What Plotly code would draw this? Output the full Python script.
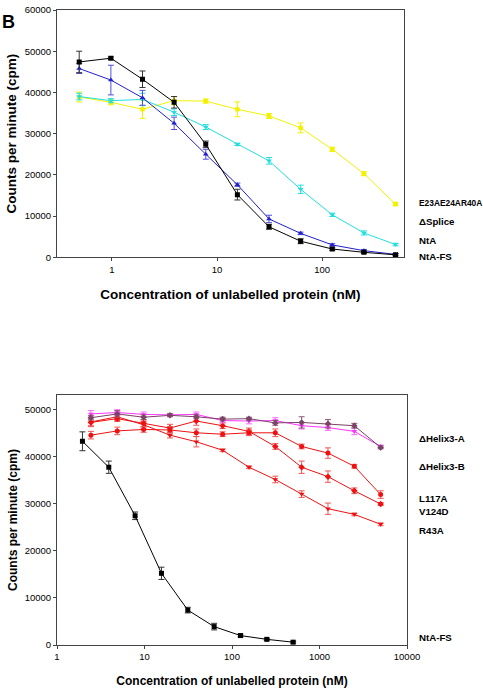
import plotly.graph_objects as go

# ---------------- Panel B (top) ----------------
conc_top = [0.488, 0.977, 1.953, 3.906, 7.8125, 15.625, 31.25, 62.5, 125, 250, 500]
ntafs_top = [47400, 48300, 43200, 37600, 27400, 15200, 7400, 3900, 2000, 1200, 600]
ntafs_top_err = [2600, 300, 2000, 1400, 800, 1300, 600, 600, 300, 300, 300]
nta_top = [45800, 43000, 38700, 32500, 25000, 17600, 9300, 5800, 3000, 1600, 700]
nta_top_err = [1200, 3600, 1800, 1500, 1200, 400, 900, 300, 300, 300, 200]
splice_top = [39000, 38000, 38300, 35200, 31600, 27400, 23400, 16500, 10300, 5900, 3100]
splice_top_err = [800, 500, 1500, 800, 600, 300, 800, 1000, 400, 500, 300]
e23a_top = [38900, 37600, 35900, 38000, 37900, 35900, 34300, 31400, 26200, 20300, 12900]
e23a_top_err = [1200, 600, 2200, 1000, 500, 1800, 600, 1200, 500, 500, 400]

# ---------------- Bottom panel ----------------
conc_fs = [1.953, 3.906, 7.8125, 15.625, 31.25, 62.5, 125, 250, 500]
ntafs_bot = [43200, 37700, 27400, 15200, 7400, 3900, 2000, 1200, 600]
ntafs_bot_err = [2000, 1300, 800, 1300, 600, 700, 300, 200, 200]

conc_mut = [2.441, 4.883, 9.766, 19.53, 39.06, 78.125, 156.25, 312.5, 625, 1250, 2500, 5000]
helixA = [49000, 49300, 48900, 48800, 48900, 47600, 47500, 47600, 46500, 46100, 45300, 42100]
helixA_err = [700, 600, 500, 300, 500, 500, 600, 600, 700, 600, 700, 300]
helixB = [48200, 49000, 48300, 48700, 48400, 47900, 48000, 47100, 47200, 46900, 46500, 41900]
helixB_err = [500, 700, 500, 300, 400, 400, 300, 500, 1200, 900, 500, 300]
l117a = [44500, 45400, 45700, 45600, 45000, 44700, 45000, 45000, 42100, 40700, 37900, 31900]
l117a_err = [800, 800, 600, 700, 800, 500, 600, 800, 500, 1100, 400, 800]
v124d = [47200, 48000, 47000, 46000, 47500, 46500, 45300, 42100, 37700, 35700, 32700, 29900]
v124d_err = [700, 600, 700, 800, 900, 600, 700, 600, 1300, 1200, 600, 300]
r43a = [47300, 48400, 46700, 44500, 43100, 41300, 37700, 35100, 32000, 28900, 27700, 25600]
r43a_err = [1000, 800, 700, 600, 1100, 300, 300, 700, 700, 1200, 300, 300]

labels_top = ["E23AE24AR40A", "\u0394Splice", "NtA", "NtA-FS"]
labels_bot = ["\u0394Helix3-A", "\u0394Helix3-B", "L117A", "V124D", "R43A", "NtA-FS"]

fig = go.Figure()


def add(x, y, err, color, ecolor, symbol, xa, ya, name, size=5):
    fig.add_trace(go.Scatter(
        x=x, y=y, mode="lines+markers", name=name, xaxis=xa, yaxis=ya,
        line=dict(color=color, width=1),
        marker=dict(color=color, symbol=symbol, size=size, line=dict(width=0)),
        error_y=dict(type="data", array=err, visible=True, color=ecolor,
                     thickness=1, width=3),
        showlegend=False,
    ))


add(conc_top, e23a_top, e23a_top_err, "#f2f200", "#f2f200", "circle", "x", "y", "E23AE24AR40A")
add(conc_top, splice_top, splice_top_err, "#22dede", "#22dede", "triangle-down", "x", "y", "ΔSplice")
add(conc_top, nta_top, nta_top_err, "#2020d0", "#5050d8", "triangle-up", "x", "y", "NtA")
add(conc_top, ntafs_top, ntafs_top_err, "#000000", "#333333", "square", "x", "y", "NtA-FS")

add(conc_fs, ntafs_bot, ntafs_bot_err, "#000000", "#333333", "square", "x2", "y2", "NtA-FS")
add(conc_mut, r43a, r43a_err, "#ee1111", "#f05555", "triangle-down", "x2", "y2", "R43A")
add(conc_mut, v124d, v124d_err, "#ee1111", "#f05555", "diamond", "x2", "y2", "V124D")
add(conc_mut, l117a, l117a_err, "#ee1111", "#f05555", "circle", "x2", "y2", "L117A")
add(conc_mut, helixA, helixA_err, "#ff33ff", "#ff66ff", "triangle-down", "x2", "y2", "ΔHelix3-A")
add(conc_mut, helixB, helixB_err, "#7a4466", "#8a5a76", "diamond", "x2", "y2", "ΔHelix3-B")

axis_common = dict(showline=True, linecolor="#444444", linewidth=1, mirror=True,
                   ticks="outside", ticklen=3, tickcolor="#444444", showgrid=False,
                   zeroline=False, ticklabeloverflow="allow",
                   tickfont=dict(size=9.5, color="#000000"))
title_font_top = dict(size=13.5, family="Liberation Sans, Arial", color="#000000")
title_font_bot = dict(size=12, family="Liberation Sans, Arial", color="#000000")

fig.update_layout(
    width=483, height=690,
    margin=dict(l=57, r=76, t=4, b=44),
    plot_bgcolor="white", paper_bgcolor="white",
    font=dict(family="Liberation Sans, Arial", color="#000000"),
    xaxis=dict(type="log", domain=[0, 0.991], anchor="y",
               range=[-0.5229, 2.7782], tickvals=[1, 10, 100], ticktext=["1", "10", "100"],
               title=dict(text="<b>Concentration of unlabelled protein (nM)</b>",
                          font=title_font_top, standoff=15),
               **axis_common),
    yaxis=dict(domain=[0.6106, 1], anchor="x", range=[0, 60000],
               tickvals=[0, 10000, 20000, 30000, 40000, 50000, 60000], tickformat="d",
               title=dict(text="<b>Counts per minute (cpm)</b>", font=title_font_top, standoff=4),
               **axis_common),
    xaxis2=dict(type="log", domain=[0, 1], anchor="y2", range=[0, 4],
                tickvals=[1, 10, 100, 1000, 10000],
                ticktext=["1", "10", "100", "1000", "10000"],
                title=dict(text="<b>Concentration of unlabelled protein (nM)</b>",
                           font=title_font_bot, standoff=15),
                **axis_common),
    yaxis2=dict(domain=[0, 0.3936], anchor="x2", range=[0, 53000],
                tickvals=[0, 10000, 20000, 30000, 40000, 50000], tickformat="d",
                title=dict(text="<b>Counts per minute (cpm)</b>", font=title_font_bot, standoff=4),
                **axis_common),
)

label_y_top = [13100, 8600, 4000, 300]
label_y_bot = [43700, 37900, 31100, 28250, 24250, 1600]
label_sizes_top = [8.4, 9.7, 9.7, 9.7]
for txt, yv, fs in zip(labels_top, label_y_top, label_sizes_top):
    fig.add_annotation(text="<b>" + txt + "</b>", xref="paper", yref="y", x=1.0286, y=yv,
                       xanchor="left", yanchor="middle", showarrow=False,
                       font=dict(size=fs, color="#000000"))
for txt, yv in zip(labels_bot, label_y_bot):
    fig.add_annotation(text="<b>" + txt + "</b>", xref="paper", yref="y2", x=1.0286, y=yv,
                       xanchor="left", yanchor="middle", showarrow=False,
                       font=dict(size=9.7, color="#000000"))

fig.add_annotation(text="<b>B</b>", xref="paper", yref="paper", x=-0.163, y=1.0,
                   xanchor="left", yanchor="top", showarrow=False,
                   font=dict(size=18, color="#000000"))

fig.write_html("out.html", config={"displayModeBar": False},
               post_script="document.body.style.margin='0';document.body.style.overflow='hidden';")
